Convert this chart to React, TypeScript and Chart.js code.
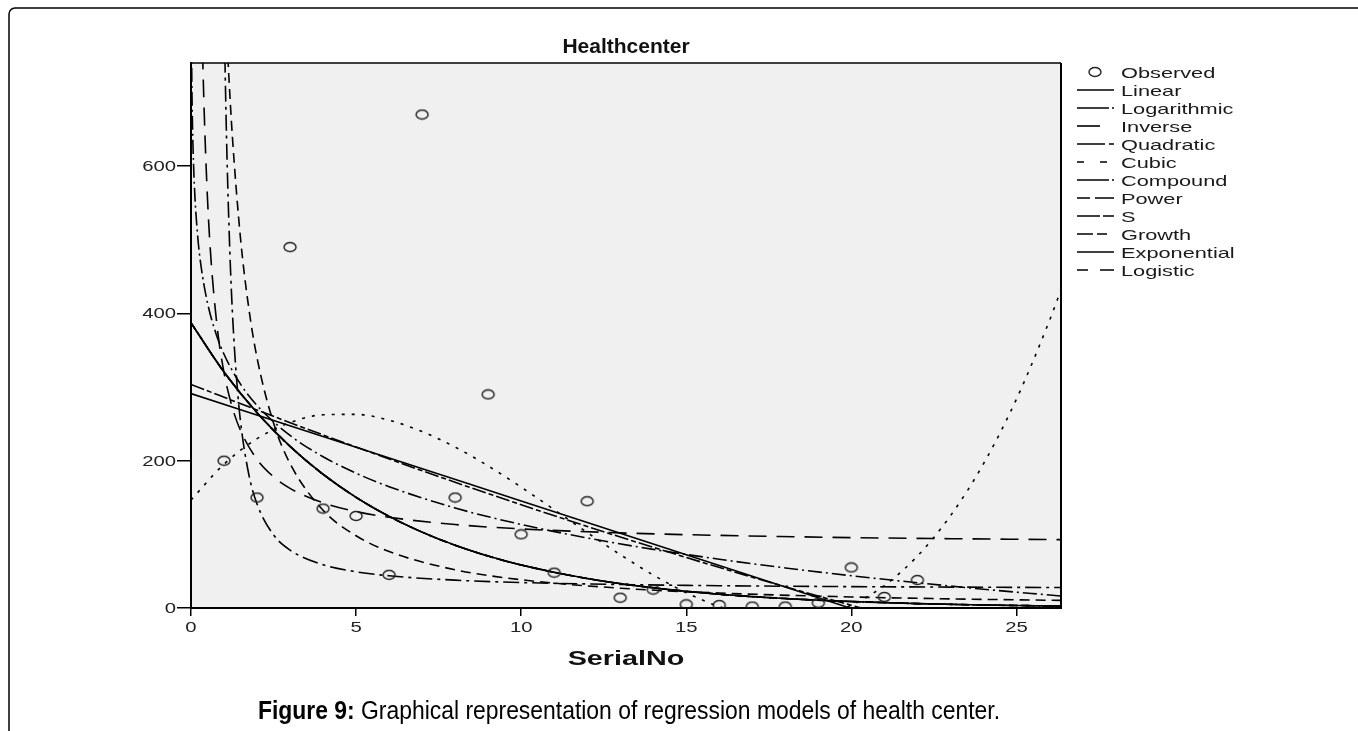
import React, { useEffect, useRef } from "react";
import { Chart, registerables } from "chart.js";

Chart.register(...registerables);

// ---------- data ----------
const OBS_X = [1, 2, 3, 4, 5, 6, 7, 8, 9, 10, 11, 12, 13, 14, 15, 16, 17, 18, 19, 20, 21, 22];
const OBS_Y = [200, 150, 490, 135, 125, 45, 670, 150, 290, 100, 48, 145, 14, 25, 5, 4, 2, 2, 7, 55, 15, 38];

const LINEAR_X = [0, 5, 10, 15, 20, 26.35];
const LINEAR_Y = [291.2, 218.3, 145.3, 72.3, -0.6, -93.3];

const LOG_X = [0.015, 0.02, 0.03, 0.05, 0.1, 0.2, 0.3, 0.5, 0.75, 1, 1.5, 2, 3, 4, 5, 6, 8, 10, 12, 14, 16, 18, 20, 22, 24, 26.35];
const LOG_Y = [766.3, 737.4, 696.7, 645.4, 575.8, 506.2, 465.5, 414.2, 373.5, 344.6, 303.9, 275.0, 234.3, 205.4, 183.0, 164.7, 135.8, 113.4, 95.1, 79.6, 66.2, 54.4, 43.8, 34.3, 25.5, 16.3];

const INV_X = [0.3, 0.35, 0.4, 0.5, 0.6, 0.8, 1, 1.25, 1.5, 2, 2.5, 3, 4, 5, 6, 8, 10, 13, 16, 20, 23, 26.35];
const INV_Y = [869.9, 757.6, 673.4, 555.5, 476.9, 378.6, 319.7, 272.5, 241.0, 201.8, 178.2, 162.5, 142.8, 131.0, 123.2, 113.3, 107.4, 102.0, 98.6, 95.6, 94.1, 92.8];

const QUAD_X = [0, 2.5, 5, 7.5, 10, 12.5, 15, 17.5, 20, 22, 26.35];
const QUAD_Y = [303.6, 260.2, 218.5, 178.5, 140.2, 103.5, 68.6, 35.3, 3.7, -20.3, -69.0];

const CUBIC_X = [0, 1, 2, 3, 4, 5, 6, 7, 8, 9, 10, 11, 12, 13, 14, 15, 16, 17, 18, 19, 20, 21, 22, 23, 24, 25, 26, 26.35];
const CUBIC_Y = [146.6, 195.3, 229.9, 251.8, 262.3, 262.9, 254.9, 239.6, 218.5, 192.9, 164.1, 133.5, 102.5, 72.5, 44.8, 20.8, 1.8, -10.8, -15.6, -11.2, 3.7, 30.5, 70.4, 125.1, 195.6, 283.6, 390.2, 432.1];

// Compound, Growth, Exponential and Logistic coincide on this picture
const EXP_X = [0, 1, 2, 3, 4, 5, 6, 7, 8, 9, 10, 12, 14, 16, 18, 20, 22, 24, 26.35];
const EXP_Y = [387.2, 320.4, 265.2, 219.5, 181.6, 150.3, 124.4, 103.0, 85.2, 70.5, 58.4, 40.0, 27.4, 18.7, 12.8, 8.8, 6.0, 4.1, 2.6];

const POWER_X = [1.05, 1.1, 1.15, 1.25, 1.5, 1.75, 2, 2.5, 3, 4, 5, 6, 8, 10, 13, 16, 20, 23, 26.35];
const POWER_Y = [813.5, 763.8, 719.1, 642.3, 501.7, 407.1, 339.7, 251.1, 196.1, 132.8, 98.1, 76.6, 51.9, 38.4, 26.9, 20.3, 15.0, 12.4, 10.3];

const S_X = [0.95, 1, 1.05, 1.1, 1.2, 1.3, 1.4, 1.5, 1.75, 2, 2.5, 3, 4, 5, 6, 8, 10, 13, 16, 20, 23, 26.35];
const S_Y = [985, 819.4, 693, 595.1, 455.8, 364, 300, 253.0, 181.6, 141.2, 99.4, 78.6, 58.7, 49.2, 43.7, 37.8, 34.6, 31.9, 30.3, 29.0, 28.4, 27.8];

const X_TICKS = [0, 5, 10, 15, 20, 25];
const Y_TICKS = [0, 200, 400, 600];
const X_MIN = 0;
const X_MAX = 26.35;
const Y_MIN = 0;
const Y_MAX = 740;

const TITLE = "Healthcenter";
const X_TITLE = "SerialNo";
const CAPTION_BOLD = "Figure 9:";
const CAPTION_TEXT = " Graphical representation of regression models of health center.";
const OBS_LABEL = "Observed";

// ---------- styles ----------
type Series = { label: string; xs: number[]; ys: number[]; dash: number[]; legendDash: number[] };

const SERIES: Series[] = [
  { label: "Linear", xs: LINEAR_X, ys: LINEAR_Y, dash: [], legendDash: [] },
  { label: "Logarithmic", xs: LOG_X, ys: LOG_Y, dash: [14, 4, 2, 4], legendDash: [32, 3, 2, 10] },
  { label: "Inverse", xs: INV_X, ys: INV_Y, dash: [18, 10], legendDash: [23, 20] },
  { label: "Quadratic", xs: QUAD_X, ys: QUAD_Y, dash: [14, 3, 5, 3], legendDash: [28, 4, 5, 10] },
  { label: "Cubic", xs: CUBIC_X, ys: CUBIC_Y, dash: [3, 7], legendDash: [7, 16, 7, 20] },
  { label: "Compound", xs: EXP_X, ys: EXP_Y, dash: [14, 3, 2, 3], legendDash: [32, 3, 2, 10] },
  { label: "Power", xs: POWER_X, ys: POWER_Y, dash: [10, 6], legendDash: [13, 5, 20, 10] },
  { label: "S", xs: S_X, ys: S_Y, dash: [16, 5, 3, 5], legendDash: [23, 3, 11, 10] },
  { label: "Growth", xs: EXP_X, ys: EXP_Y, dash: [8, 4], legendDash: [16, 4, 10, 20] },
  { label: "Exponential", xs: EXP_X, ys: EXP_Y, dash: [], legendDash: [] },
  { label: "Logistic", xs: EXP_X, ys: EXP_Y, dash: [8, 8], legendDash: [11, 12, 14, 10] },
];

const FONT = '"Liberation Sans", Arial, Helvetica, sans-serif';

function pts(xs: number[], ys: number[]) {
  return xs.map((x, i) => ({ x, y: ys[i] }));
}

function stretchText(
  ctx: CanvasRenderingContext2D,
  text: string,
  x: number,
  y: number,
  font: string,
  sx: number,
  align: "left" | "center" | "right"
) {
  ctx.save();
  ctx.font = font;
  ctx.textAlign = "left";
  ctx.textBaseline = "alphabetic";
  const w = ctx.measureText(text).width * sx;
  let left = x;
  if (align === "center") left = x - w / 2;
  else if (align === "right") left = x - w;
  ctx.translate(left, y);
  ctx.scale(sx, 1);
  ctx.fillText(text, 0, 0);
  ctx.restore();
  return w;
}

export default function App() {
  const ref = useRef<HTMLCanvasElement>(null);

  useEffect(() => {
    const canvas = ref.current;
    if (!canvas) return;

    const ellipse = document.createElement("canvas");
    ellipse.width = 16;
    ellipse.height = 12;
    const ec = ellipse.getContext("2d")!;
    ec.strokeStyle = "#222";
    ec.lineWidth = 1.4;
    ec.beginPath();
    ec.ellipse(8, 6, 6, 4.5, 0, 0, Math.PI * 2);
    ec.stroke();

    const decor = {
      id: "decor",
      beforeDraw(chart: any) {
        const { ctx, chartArea: a } = chart;
        ctx.save();
        ctx.fillStyle = "#ffffff";
        ctx.fillRect(0, 0, chart.width, chart.height);
        ctx.fillStyle = "#f0f0f0";
        ctx.fillRect(a.left, a.top, a.right - a.left, a.bottom - a.top);
        ctx.restore();
      },
      afterDraw(chart: any) {
        const { ctx, chartArea: a } = chart;
        const xs = chart.scales.x;
        const ys = chart.scales.y;
        ctx.save();

        // plot frame top / right
        ctx.strokeStyle = "#000";
        ctx.setLineDash([]);
        ctx.lineWidth = 1.5;
        ctx.beginPath();
        ctx.moveTo(a.left, a.top);
        ctx.lineTo(a.right, a.top);
        ctx.stroke();
        ctx.lineWidth = 2;
        ctx.beginPath();
        ctx.moveTo(a.right, a.top);
        ctx.lineTo(a.right, a.bottom + 1);
        ctx.stroke();

        // tick labels
        ctx.fillStyle = "#222";
        ys.ticks.forEach((t: any) => {
          stretchText(ctx, String(t.value), a.left - 15, ys.getPixelForValue(t.value) + 5, `14px ${FONT}`, 1.45, "right");
        });
        xs.ticks.forEach((t: any) => {
          stretchText(ctx, String(t.value), xs.getPixelForValue(t.value), a.bottom + 24, `14px ${FONT}`, 1.45, "center");
        });

        // titles
        ctx.fillStyle = "#111";
        const cx = (a.left + a.right) / 2;
        stretchText(ctx, X_TITLE, cx, 665, `bold 21px ${FONT}`, 1.37, "center");
        stretchText(ctx, TITLE, cx, 53, `bold 21px ${FONT}`, 1.0, "center");

        // legend
        const lx0 = 1077;
        const lx1 = 1114;
        const tx = 1121;
        const rowY = (i: number) => 72 + 18 * i;
        ctx.drawImage(ellipse, 1095 - 8, rowY(0) - 6);
        ctx.fillStyle = "#1a1a1a";
        stretchText(ctx, OBS_LABEL, tx, rowY(0) + 5.5, `15px ${FONT}`, 1.45, "left");
        SERIES.forEach((s, i) => {
          const y = rowY(i + 1);
          ctx.save();
          ctx.strokeStyle = "#000";
          ctx.lineWidth = 1.6;
          ctx.setLineDash(s.legendDash);
          ctx.beginPath();
          ctx.moveTo(lx0, y);
          ctx.lineTo(lx1, y);
          ctx.stroke();
          ctx.restore();
          stretchText(ctx, s.label, tx, y + 5.5, `15px ${FONT}`, 1.45, "left");
        });

        // caption
        ctx.fillStyle = "#000";
        const capFont = 25;
        ctx.font = `bold ${capFont}px ${FONT}`;
        const wb = ctx.measureText(CAPTION_BOLD).width;
        ctx.font = `${capFont}px ${FONT}`;
        const wn = ctx.measureText(CAPTION_TEXT).width;
        const capLeft = 258;
        const capWidth = 742;
        const sc = capWidth / (wb + wn);
        ctx.save();
        ctx.translate(capLeft, 719);
        ctx.scale(sc, 1);
        ctx.textBaseline = "alphabetic";
        ctx.textAlign = "left";
        ctx.font = `bold ${capFont}px ${FONT}`;
        ctx.fillText(CAPTION_BOLD, 0, 0);
        ctx.font = `${capFont}px ${FONT}`;
        ctx.fillText(CAPTION_TEXT, wb, 0);
        ctx.restore();

        // page frame
        ctx.strokeStyle = "#000";
        ctx.lineWidth = 1.5;
        ctx.setLineDash([]);
        ctx.beginPath();
        ctx.moveTo(9, 731);
        ctx.lineTo(9, 14);
        ctx.arcTo(9, 8, 15, 8, 6);
        ctx.lineTo(1358, 8);
        ctx.stroke();

        ctx.restore();
      },
    };

    const datasets: any[] = [
      {
        label: OBS_LABEL,
        data: pts(OBS_X, OBS_Y),
        showLine: false,
        pointStyle: ellipse,
        pointRadius: 6,
        borderColor: "#222",
        backgroundColor: "transparent",
        clip: 0,
      },
      ...SERIES.map((s) => ({
        label: s.label,
        data: pts(s.xs, s.ys),
        showLine: true,
        pointRadius: 0,
        borderColor: "#000",
        borderWidth: 1.6,
        borderDash: s.dash,
        fill: false,
        cubicInterpolationMode: "monotone",
        clip: 0,
      })),
    ];

    const axisCommon = {
      type: "linear" as const,
      border: { display: true, color: "#000", width: 2 },
      ticks: { color: "rgba(0,0,0,0)", font: { size: 8 }, autoSkip: false, maxRotation: 0 },
    };

    const chart = new Chart(canvas, {
      type: "line",
      data: { datasets },
      plugins: [decor],
      options: {
        responsive: false,
        animation: false,
        events: [],
        layout: { padding: { left: 151, right: 297, top: 63, bottom: 103 } },
        plugins: {
          legend: { display: false },
          tooltip: { enabled: false },
          title: { display: false },
        },
        scales: {
          x: {
            ...axisCommon,
            min: X_MIN,
            max: X_MAX,
            afterBuildTicks: (s: any) => {
              s.ticks = X_TICKS.map((v) => ({ value: v }));
            },
            afterFit: (s: any) => {
              s.height = 20;
            },
            grid: { display: true, drawOnChartArea: false, drawTicks: true, tickLength: 8, color: "#000", lineWidth: 1.5 },
          },
          y: {
            ...axisCommon,
            min: Y_MIN,
            max: Y_MAX,
            afterBuildTicks: (s: any) => {
              s.ticks = Y_TICKS.map((v) => ({ value: v }));
            },
            afterFit: (s: any) => {
              s.width = 40;
            },
            grid: { display: true, drawOnChartArea: false, drawTicks: true, tickLength: 14, color: "#000", lineWidth: 1.5 },
          },
        },
      } as any,
    });

    return () => {
      chart.destroy();
    };
  }, []);

  return (
    <div style={{ position: "absolute", left: 0, top: 0, width: 1358, height: 731, background: "#fff" }}>
      <canvas ref={ref} width={1358} height={731} style={{ display: "block", width: 1358, height: 731 }} />
    </div>
  );
}
